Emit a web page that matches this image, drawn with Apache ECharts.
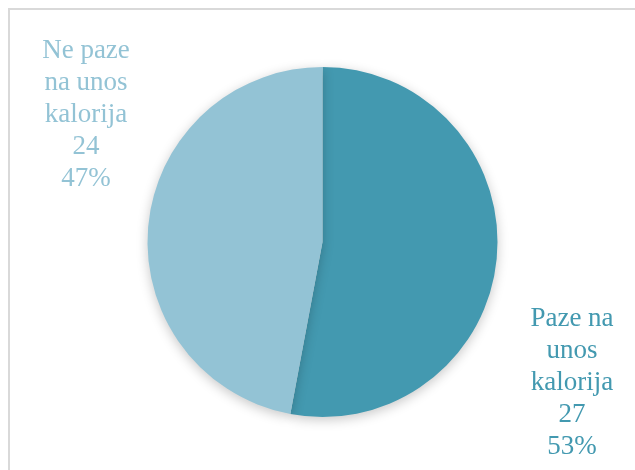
<!DOCTYPE html>
<html>
<head>
<meta charset="utf-8">
<script src="https://cdn.jsdelivr.net/npm/echarts@6/dist/echarts.min.js"></script>
<style>html,body{margin:0;padding:0;background:#fff;}#c{width:635px;height:470px;}</style>
</head>
<body>
<div id="c"></div>
<script>
var categories = ['Paze na\nunos\nkalorija', 'Ne paze\nna unos\nkalorija'];
var values = [27, 24];
var percents = ['53%', '47%'];
var colors = ['#4399B0', '#93C3D5'];

var chart = echarts.init(document.getElementById('c'), null, {renderer: 'canvas'});
var labelPos = [[572, 383], [86, 115]];
chart.setOption({
  animation: false,
  graphic: [{
    type: 'rect', shape: {x: 9, y: 9, width: 700, height: 600},
    style: {fill: 'none', stroke: '#D9D9D9', lineWidth: 2}, silent: true, z: 0
  }],
  series: [{
    type: 'pie',
    center: [322.5, 242],
    radius: [0, 175],
    startAngle: 90,
    clockwise: true,
    data: categories.map(function (c, i) {
      return {name: c, value: values[i], itemStyle: {color: colors[i]},
        label: {color: colors[i]}};
    }),
    itemStyle: {shadowBlur: 12, shadowColor: 'rgba(0,0,0,0.22)', shadowOffsetY: 3, shadowOffsetX: 0},
    label: {
      show: true,
      position: 'outside',
      overflow: 'none',
      formatter: function (p) { return p.name + '\n' + p.value + '\n' + percents[p.dataIndex]; },
      fontFamily: 'Liberation Serif',
      fontSize: 27,
      lineHeight: 32,
      align: 'center'
    },
    labelLine: {show: false},
    labelLayout: function (params) {
      var p = labelPos[params.dataIndex];
      return {x: p[0], y: p[1], align: 'center', verticalAlign: 'middle'};
    }
  }]
});
</script>
</body>
</html>
